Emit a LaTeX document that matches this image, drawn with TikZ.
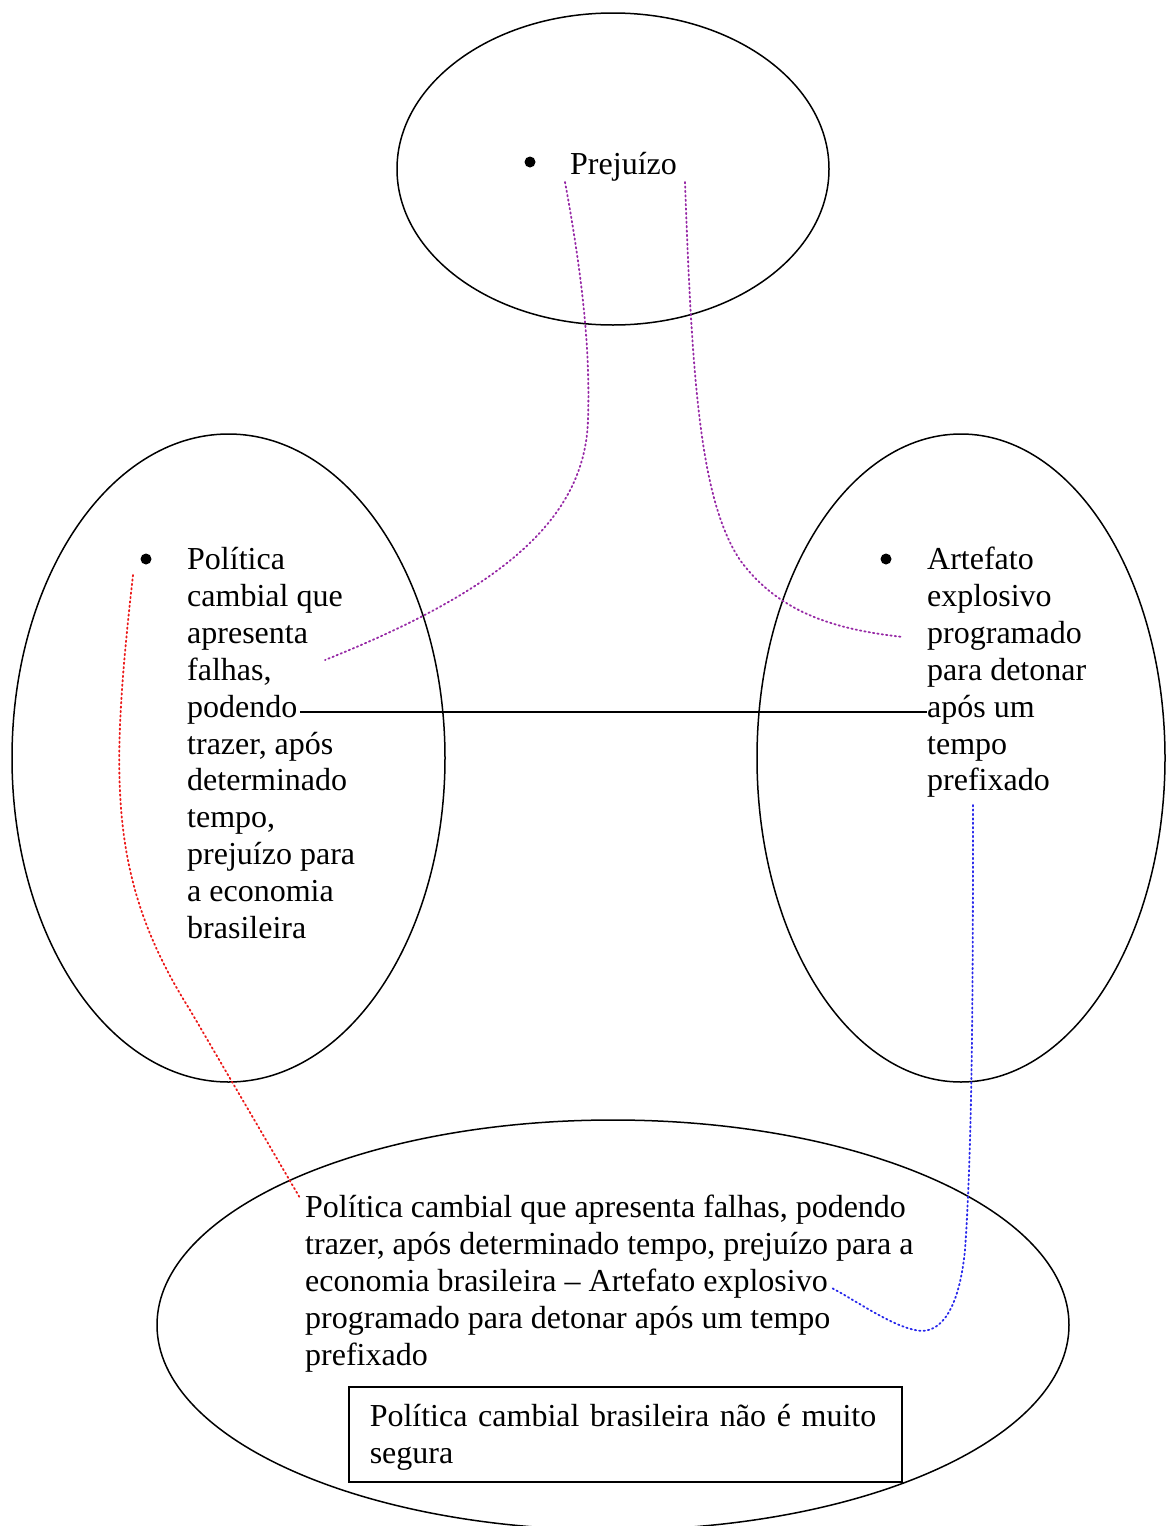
\documentclass[tikz,border=0pt]{standalone}
\usepackage{fontspec}
\setmainfont{Liberation Serif}
\usetikzlibrary{shapes.geometric}
\definecolor{linkpurple}{RGB}{150,40,165}
\definecolor{linkred}{RGB}{235,25,25}
\definecolor{linkblue}{RGB}{40,40,235}
\begin{document}
\begin{tikzpicture}[x=1pt,y=-1pt,
  oval/.style={ellipse, draw, line width=1.5pt, inner sep=0pt},
  txt/.style={inner sep=0pt, anchor=north west, align=left,
    font=\fontsize{32}{36.9}\selectfont},
  bul/.style={circle, fill, inner sep=0pt, minimum size=11pt},
  link/.style={line width=1.8pt, dash pattern=on 1.4pt off 3pt, line cap=round},
]
\useasboundingbox (0,0) rectangle (1165,1526);

% the four ovals
\node[oval, minimum width=432pt, minimum height=312pt] (otop) at (613,169) {};
\node[oval, minimum width=433pt, minimum height=648pt] (oleft) at (228.5,758) {};
\node[oval, minimum width=408pt, minimum height=648pt] (oright) at (961,758) {};
\node[oval, minimum width=912pt, minimum height=410pt] (obottom) at (613,1325) {};

% bullets
\node[bul] (btop) at (530,162) {};
\node[bul] (bleft) at (146,559) {};
\node[bul] (bright) at (886,559) {};

% texts
\node[txt] (ttop) at (570,148) {\strut Prejuízo};
\node[txt] (tleft) at (187,543.5) {\strut Política\\cambial que\\apresenta\\falhas,\\podendo\\trazer, após\\determinado\\tempo,\\prejuízo para\\a economia\\brasileira};
\node[txt] (tright) at (927,543.5) {\strut Artefato\\explosivo\\programado\\para detonar\\após um\\tempo\\prefixado};
\node[txt] (tbottom) at (305,1191.5) {\strut Política cambial que apresenta falhas, podendo\\trazer, após determinado tempo, prejuízo para a\\economia brasileira -- Artefato explosivo\\programado para detonar após um tempo\\prefixado};

% conclusion box
\node[txt, draw, line width=1.5pt, text width=511pt, inner xsep=21pt,
  inner ysep=11pt, minimum height=95pt]
  (concl) at (348,1386)
  {\rule{0pt}{28pt}\makebox[\linewidth][s]{Política cambial brasileira não é muito}\\segura};

% connector end points
\coordinate (podEnd) at (300,712);
\coordinate (aposStart) at (927,712);
\coordinate (pA) at (565,182);
\coordinate (pB) at (325,660);
\coordinate (qA) at (685,182);
\coordinate (qB) at (903,637);
\coordinate (rA) at (133,575);
\coordinate (rB) at (300,1198);
\coordinate (sA) at (973,805);
\coordinate (sB) at (830,1287);

% connectors
\draw[line width=1.5pt] (podEnd) -- (aposStart);
\draw[link, linkpurple] (pA) .. controls (585,290) and (590,360) .. (588,420)
  .. controls (585,520) and (500,590) .. (pB);
\draw[link, linkpurple] (qA) .. controls (692,380) and (700,500) .. (740,560)
  .. controls (780,615) and (840,630) .. (qB);
\draw[link, linkred] (rA) .. controls (110,780) and (108,880) .. (190,1010) -- (rB);
\draw[link, linkblue] (sA) .. controls (973,1000) and (972,1150) .. (965,1250)
  .. controls (958,1320) and (935,1335) .. (915,1330)
  .. controls (890,1325) and (855,1300) .. (sB);
\end{tikzpicture}
\end{document}
